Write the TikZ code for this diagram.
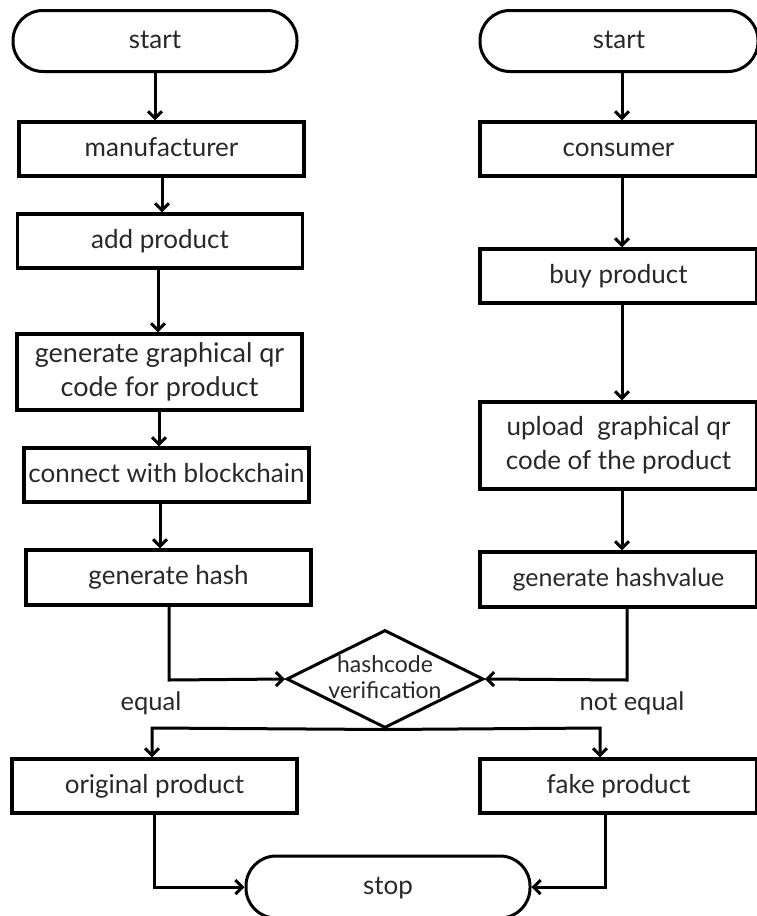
\documentclass[tikz,border=0pt]{standalone}
\usepackage{fontspec}
\setmainfont{Lato}
\usetikzlibrary{shapes.geometric,arrows.meta}
\definecolor{txt}{RGB}{40,40,40}
\tikzset{
  x=1pt,y=-1pt,
  every node/.style={font=\fontsize{26}{33}\selectfont, text=txt},
  box/.style={draw, line width=3.2pt, rectangle, minimum width=285pt, minimum height=54pt, inner sep=0pt, align=center},
  one/.style={text height=19pt, text depth=5pt},
  pill/.style={draw, line width=3pt, rectangle, rounded corners=30pt, minimum width=284pt, minimum height=61pt, text height=19pt, text depth=5pt},
  dec/.style={draw, line width=3pt, diamond, minimum width=197pt, minimum height=98pt, inner sep=0pt},
  dectext/.style={align=center, font=\fontsize{23}{26}\selectfont, text=txt, yshift=2pt},
  arr/.style={line width=3pt, -{Straight Barb[length=7pt,width=14pt,line width=3pt]}},
  lbl/.style={font=\fontsize{25.5}{30}\selectfont}
}
\begin{document}
\begin{tikzpicture}
\useasboundingbox (0,0) rectangle (756,916);
\fill[white] (0,0) rectangle (756,916);
% left column
\node[pill] (s1) at (155,41) {start};
\node[box, one] (m) at (161.5,149) {manufacturer};
\node[box, one] (ap) at (160,241) {add product};
\node[box, minimum height=76pt, font=\fontsize{27}{34}\selectfont] (qr) at (159.5,372) {generate graphical qr\\code for product};
\node[box, one] (cb) at (166.5,475) {connect with blockchain};
\node[box, one, minimum height=55pt] (gh) at (168.5,577.5) {generate hash};
% right column
\node[pill, minimum width=278pt] (s2) at (619,41) {start};
\node[box, one, minimum width=277pt] (co) at (618.5,149) {consumer};
\node[box, one, minimum width=277pt] (bp) at (618.5,276) {buy product};
\node[box, minimum width=277pt, minimum height=87pt, font=\fontsize{26}{34}\selectfont] (up) at (618.5,445.5) {upload\ \ graphical qr\\code of the product};
\node[box, one, minimum width=277pt, minimum height=55pt, font=\fontsize{25}{30}\selectfont] (hv) at (618.5,579.5) {generate hashvalue};
% decision
\node[dec, label={[dectext]center:hashcode\\verification}] (dia) at (385,679) {};
\node[box, one] (op) at (154.5,786) {original product};
\node[box, one, minimum width=277pt] (fp) at (618.5,786) {fake product};
\node[pill, minimum height=62pt] (stop) at (388,887) {stop};
\node[lbl] (eq) at (151,703) {equal};
\node[lbl] (neq) at (632,703) {not equal};
% helper x positions
\coordinate (rx) at (622,0);
\coordinate (lj) at (169,680);
\coordinate (rj) at (627,680);
\coordinate (bl) at (152,728);
\coordinate (br) at (600,728);
\coordinate (sl) at (154,887);
\coordinate (sr) at (605,887);
% left arrows
\draw[arr] (s1.south) -- (s1.south |- m.north);
\draw[arr] (m.south -| 162,0) -- (ap.north -| 162,0);
\draw[arr] (ap.south -| 158,0) -- (qr.north -| 158,0);
\draw[arr] (qr.south -| 159,0) -- (cb.north -| 159,0);
\draw[arr] (cb.south -| 160,0) -- (gh.north -| 160,0);
% right arrows
\draw[arr] (s2.south -| rx) -- (co.north -| rx);
\draw[arr] (co.south -| rx) -- (bp.north -| rx);
\draw[arr] (bp.south -| rx) -- (up.north -| rx);
\draw[arr] (up.south -| rx) -- (hv.north -| rx);
% into decision
\draw[arr] (gh.south -| lj) -- (lj) -- (dia.west);
\draw[arr] (hv.south -| rj) -- (rj) -- (dia.east);
% branches
\draw[arr] (dia.south) -- (bl) -- (op.north -| bl);
\draw[arr] (dia.south) -- (br) -- (fp.north -| br);
% to stop
\draw[arr] (op.south -| sl) -- (sl) -- (stop.west);
\draw[arr] (fp.south -| sr) -- (sr) -- (stop.east);
\end{tikzpicture}
\end{document}
